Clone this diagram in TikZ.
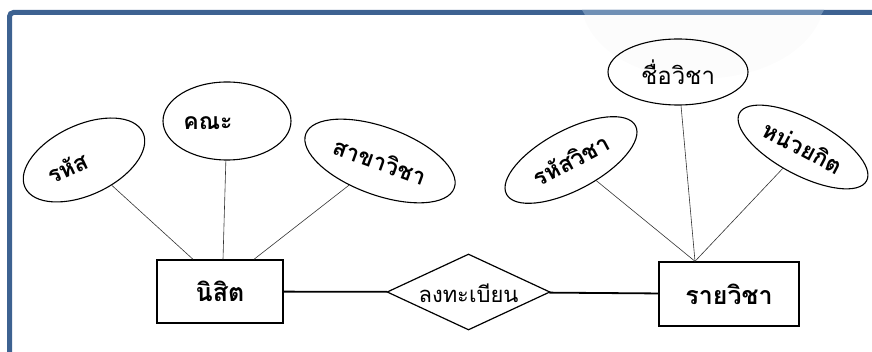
\documentclass[tikz,border=0pt]{standalone}
\usepackage{fontspec}
\usetikzlibrary{shapes.geometric}
\newfontfamily\thai[Script=Thai]{Loma}
\definecolor{frameblue}{HTML}{3D6291}
\definecolor{glareblue}{HTML}{7090B5}

\begin{document}
\begin{tikzpicture}[x=1pt, y=-1pt,
    entity/.style={draw, line width=1.4pt, rectangle, font=\thai\bfseries\fontsize{25}{28}\selectfont},
    attr/.style={draw, line width=1.1pt, ellipse, inner sep=0pt, font=\thai\bfseries\fontsize{23}{26}\selectfont},
    plain/.style={font=\thai\fontsize{22}{26}\selectfont},
    rel/.style={draw, line width=1.2pt, diamond, inner sep=0pt},
    link/.style={line width=0.6pt, black!80},
    joinline/.style={line width=1.8pt}]
  \useasboundingbox (0,0) rectangle (872,352);
  % frame along the top and left edges
  \fill[black!1.2] (583,15) .. controls (610,100) and (790,100) .. (822,15) -- cycle;
  \draw[frameblue, line width=5pt, rounded corners=4pt] (9.5,352) -- (9.5,12.5) -- (872,12.5);
  \fill[glareblue] (582,10) -- (824,10) -- (821,15) -- (585,15) -- cycle;

  % entities and relationship
  \node[entity, minimum width=126pt, minimum height=63pt] (nisit) at (220,291.5) {นิสิต};
  \node[entity, minimum width=140pt, minimum height=64pt] (wicha) at (729,294) {รายวิชา};
  \node[rel, minimum width=163pt, minimum height=76pt,
        label={[plain, yshift=-1pt]center:ลงทะเบียน}] (reg) at (468.5,292) {};

  % attributes of นิสิต
  \node[attr, rotate=25, minimum width=130pt, minimum height=70pt] (rhas) at (84,160) {รหัส\hspace*{36pt}};
  \node[attr, minimum width=128pt, minimum height=78pt,
        label={[xshift=-19pt, yshift=-2pt, font=\thai\bfseries\fontsize{23}{26}\selectfont]center:คณะ}] (khana) at (227,121) {};
  \node[attr, rotate=-20, minimum width=158pt, minimum height=68pt] (sakha) at (380,161) {สาขาวิชา};

  % attributes of รายวิชา
  \node[attr, font=\thai\fontsize{24}{28}\selectfont, minimum width=140pt, minimum height=66pt] (chue) at (678,72) {ชื่อวิชา};
  \node[attr, rotate=28, minimum width=146pt, minimum height=60pt] (rhaswicha) at (571,160) {รหัสวิชา};
  \node[attr, rotate=-28, minimum width=144pt, minimum height=56pt] (nuay) at (803,147) {หน่วยกิต};

  \draw[link] (rhas) -- ([xshift=-27pt]nisit.north);
  \draw[link] (khana) -- ([xshift=3pt]nisit.north);
  \draw[link] (sakha) -- ([xshift=34pt]nisit.north);
  \draw[link] (rhaswicha) -- ([xshift=-34pt]wicha.north);
  \draw[link] (chue) -- ([xshift=-34pt]wicha.north);
  \draw[link] (nuay) -- ([xshift=-34pt]wicha.north);

  \draw[joinline] (nisit) -- (reg);
  \draw[joinline] (reg) -- (wicha);
\end{tikzpicture}
\end{document}
